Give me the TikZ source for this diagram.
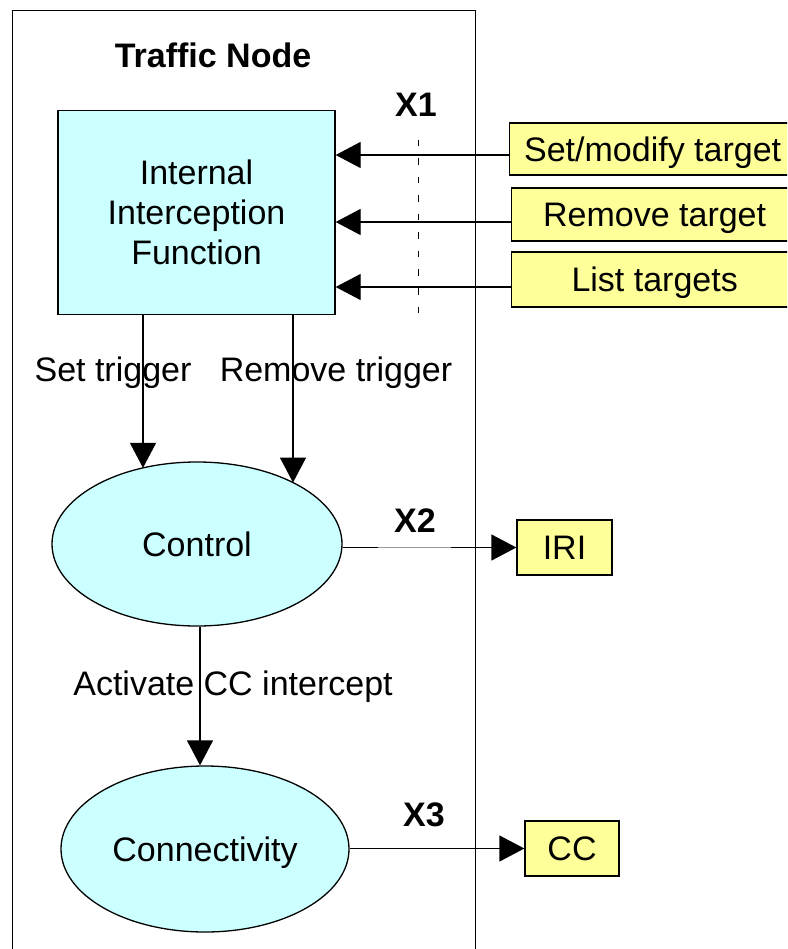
\documentclass[tikz,border=0pt]{standalone}
\usepackage{fontspec}
\setmainfont{Liberation Sans}
\usetikzlibrary{shapes.geometric,arrows.meta,intersections}
\definecolor{funcfill}{HTML}{CCFFFF}
\definecolor{msgfill}{HTML}{FFFF99}
\begin{document}
\begin{tikzpicture}[x=1pt,y=-1pt,
  every node/.style={font=\fontsize{34}{40}\selectfont, inner sep=0pt},
  boldlabel/.style={font={\fontsize{34}{40}\selectfont\bfseries}, anchor=base},
  plainlabel/.style={anchor=base},
  capline/.style={text height=24.4pt, text depth=0pt},
  func/.style={draw, line width=1.3pt, fill=funcfill},
  msgbox/.style={draw, line width=1.3pt, fill=msgfill, capline},
  arr/.style={line width=1.3pt, -{Triangle[length=25pt,width=26pt]}},
  refline/.style={line width=1pt, dash pattern=on 6.5pt off 12pt}
]
% page frame
\clip (0,0) rectangle (787,949);
\fill[white] (0,0) rectangle (787,949);

% the traffic node container
\node[draw, line width=1.3pt, minimum width=463pt, minimum height=960pt,
      anchor=north west] (tn) at (12,10) {};
\node[boldlabel] (title) at (213,68) {Traffic Node};

% functional blocks inside the node
\node[func, minimum width=277pt, minimum height=204pt, align=center]
  (iif) at (196.5,212.5) {Internal\\Interception\\Function};
\node[func, ellipse, capline, minimum width=290pt, minimum height=164pt,
      name path=ctrlpath] (control) at (197,544) {Control};
\node[func, ellipse, capline, minimum width=288pt, minimum height=166pt]
  (conn) at (205,849) {Connectivity};

% external messages and outputs
\node[msgbox, minimum width=286pt, minimum height=52pt, anchor=west]
  (setmod) at (509,149) {Set/modify target};
\node[msgbox, minimum width=286pt, minimum height=53pt, anchor=west]
  (remove) at (511,214.5) {Remove target};
\node[msgbox, minimum width=286pt, minimum height=55pt, anchor=west]
  (list) at (511,279.5) {List targets};
\node[msgbox, minimum width=95pt, minimum height=55pt]
  (iri) at (564.5,547.5) {IRI};
\node[msgbox, minimum width=94pt, minimum height=55pt]
  (cc) at (572,848.5) {CC};

% X1 interface reference line
\coordinate (xonetop) at (418,140);
\coordinate (xonebot) at (418,320);
\draw[refline] (xonetop) -- (xonebot);
\node[boldlabel] (xone) at (416,117) {X1};

% administration requests into the interception function
\coordinate (rowa) at (0,155);
\coordinate (rowb) at (0,222);
\coordinate (rowc) at (0,287);
\draw[arr] (setmod.west |- rowa) -- (iif.east |- rowa);
\draw[arr] (remove.west |- rowb) -- (iif.east |- rowb);
\draw[arr] (list.west |- rowc) -- (iif.east |- rowc);

% triggers from the interception function to control
\path[name path=trigone] (143,300) -- (143,620);
\path[name path=trigtwo] (293,300) -- (293,620);
\path[name intersections={of=trigone and ctrlpath, by={tone}}];
\path[name intersections={of=trigtwo and ctrlpath, by={ttwo}}];
\draw[arr] (iif.south -| tone) -- (tone);
\draw[arr] (iif.south -| ttwo) -- (ttwo);
\node[plainlabel] (settrig) at (113,381) {Set trigger};
\node[plainlabel] (remtrig) at (336,381) {Remove trigger};

% control activates content interception
\coordinate (actx) at (200,0);
\draw[arr] (control.south -| actx) -- (conn.north -| actx);
\node[plainlabel] (activate) at (233,695) {Activate CC intercept};

% X2: intercept related information
\draw[arr] (control.east |- iri.west) -- (iri.west);
\coordinate (graya) at (378,0);
\coordinate (grayb) at (451,0);
\draw[line width=1.3pt, black!40] (iri.west -| graya) -- (iri.west -| grayb);
\node[boldlabel] (xtwo) at (415,532) {X2};

% X3: content of communication
\draw[arr] (conn.east |- cc.west) -- (cc.west);
\node[boldlabel] (xthree) at (424,826) {X3};
\end{tikzpicture}
\end{document}
